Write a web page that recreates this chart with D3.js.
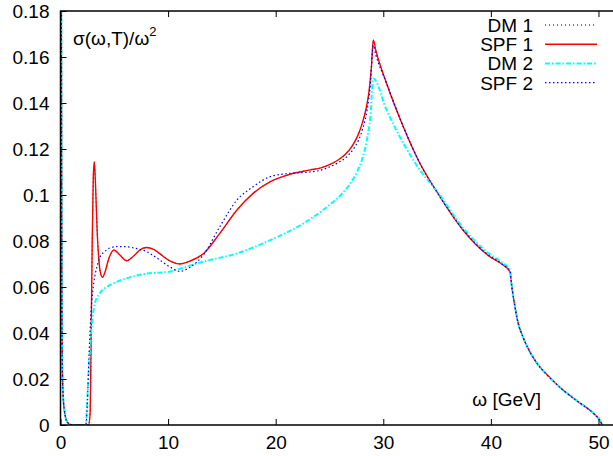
<!DOCTYPE html>
<html>
<head>
<meta charset="utf-8">
<script src="https://cdn.jsdelivr.net/npm/d3@7"></script>
<style>
  body { margin: 0; background: #fff; }
  svg { display: block; font-family: "Liberation Sans", Arial, sans-serif; }
</style>
</head>
<body>
<svg width="613" height="456"></svg>
<script>
// spectral function data (omega in GeV)
var omegaSpike = [0.05, 0.08, 0.1, 0.13, 0.17, 0.25, 0.4, 0.6, 0.9, 1.2];
var valueSpike = [0.30, 0.19, 0.12, 0.05, 0.025, 0.012, 0.005, 0.0015, 0.0003, 0];

var omega1 = [2.6, 2.75, 2.85, 2.95, 3.05, 3.14, 3.25, 3.4, 3.6, 3.8, 3.92, 4.1, 4.5, 4.97, 5.5, 6.15, 6.8, 7.4, 8.0, 8.7, 9.5, 10.2, 11.1, 12.0, 13.3, 14.8, 16.4, 17.9, 19.5, 21.3, 23.2, 24.2, 25.0, 25.8, 26.5, 27.1, 27.6, 28.0, 28.4, 28.7, 28.9, 29.07, 29.3, 30.3, 31.86, 33.4, 35.0, 37.4, 39.9, 41.0, 41.8];
var spf1 = [0, 0.005, 0.04, 0.08, 0.108, 0.1145, 0.105, 0.085, 0.070, 0.0648, 0.0642, 0.066, 0.0725, 0.0761, 0.0740, 0.0714, 0.0735, 0.0762, 0.0772, 0.0762, 0.0735, 0.0712, 0.0700, 0.0712, 0.0746, 0.0833, 0.0935, 0.1007, 0.1058, 0.109, 0.1109, 0.1118, 0.1132, 0.1152, 0.1178, 0.1213, 0.1255, 0.1305, 0.1375, 0.146, 0.156, 0.1674, 0.163, 0.1486, 0.1297, 0.1138, 0.1012, 0.0848, 0.0732, 0.0700, 0.0664];
var dm1 = [0, 0.005, 0.04, 0.08, 0.108, 0.1142, 0.105, 0.085, 0.070, 0.0648, 0.0643, 0.066, 0.0725, 0.0760, 0.0740, 0.0715, 0.0735, 0.0761, 0.0771, 0.0762, 0.0735, 0.0712, 0.0701, 0.0712, 0.0746, 0.0833, 0.0935, 0.1007, 0.1058, 0.109, 0.1109, 0.1118, 0.1132, 0.1152, 0.1178, 0.1213, 0.1255, 0.1305, 0.1375, 0.146, 0.156, 0.1670, 0.163, 0.1486, 0.1297, 0.1138, 0.1012, 0.0848, 0.0732, 0.0700, 0.0664];

var omega2 = [2.35, 2.5, 2.65, 2.85, 3.1, 3.4, 3.67, 4.13, 4.6, 5.3, 6.15, 7.0, 8.0, 9.0, 10.18, 11.1, 12.0, 13.27, 14.8, 16.4, 17.9, 19.5, 21.3, 23.2, 24.2, 25.0, 25.8, 26.6, 27.2, 27.7, 28.1, 28.5, 28.8, 29.07, 29.3, 30.3, 31.86, 33.4, 35.0, 37.4, 39.9, 41.0, 41.8];
var spf2 = [0, 0.01, 0.03, 0.05, 0.062, 0.069, 0.073, 0.0755, 0.077, 0.0776, 0.0775, 0.0768, 0.0754, 0.0725, 0.0687, 0.0668, 0.0685, 0.0739, 0.0862, 0.0978, 0.1036, 0.108, 0.1094, 0.110, 0.1108, 0.1122, 0.1140, 0.1166, 0.1198, 0.1238, 0.129, 0.137, 0.148, 0.165, 0.161, 0.1486, 0.1297, 0.1138, 0.1012, 0.0850, 0.0735, 0.0702, 0.0666];

var omegaDM2 = [2.35, 2.5, 2.7, 2.9, 3.2, 3.6, 4.3, 5.0, 6.15, 8.0, 10.18, 11.1, 13.27, 16.4, 19.5, 22.6, 25.0, 26.0, 26.9, 27.6, 28.1, 28.5, 28.8, 29.07, 30.3, 31.86, 33.4, 35.0, 37.4, 39.9, 41.0, 41.8];
var dm2 = [0, 0.012, 0.03, 0.043, 0.053, 0.057, 0.060, 0.0618, 0.0638, 0.0658, 0.0667, 0.068, 0.0710, 0.0746, 0.0804, 0.0877, 0.0957, 0.0998, 0.1048, 0.1105, 0.1165, 0.1245, 0.134, 0.1507, 0.137, 0.1225, 0.1109, 0.1015, 0.0858, 0.0742, 0.0708, 0.0672];

// common tail after the kink at 41.8 GeV
var omegaTail = [41.84, 41.99, 42.24, 42.5, 43.0, 43.6, 44.26, 45.5, 46.7, 48.0, 49.5, 50.1, 50.35];
var valueTail = [0.0645, 0.0587, 0.0514, 0.045, 0.038, 0.032, 0.027, 0.0205, 0.0152, 0.0105, 0.0052, 0.0022, 0];

var xTicks = [0, 10, 20, 30, 40, 50];
var yTicks = [0, 0.02, 0.04, 0.06, 0.08, 0.1, 0.12, 0.14, 0.16, 0.18];
var legendNames = ["DM 1", "SPF 1", "DM 2", "SPF 2"];

function series(omegaMid, valueMid) {
  var pts = [];
  omegaSpike.forEach(function(w, i) { pts.push([w, valueSpike[i]]); });
  omegaMid.forEach(function(w, i) { pts.push([w, valueMid[i]]); });
  omegaTail.forEach(function(w, i) { pts.push([w, valueTail[i]]); });
  return pts;
}

var lines = [
  { data: series(omega1, dm1), color: "#000000", width: 1, dash: "1,3" },
  { data: series(omega1, spf1), color: "#ff0000", width: 1.4, dash: null },
  { data: series(omegaDM2, dm2), color: "#00ffff", width: 2, dash: "5,2,1.5,2" },
  { data: series(omega2, spf2), color: "#0000ff", width: 1.2, dash: "1.5,2.5" }
];

var svg = d3.select("svg");
var plotLeft = 60.5, plotTop = 11, plotBottom = 425, plotRight = 620;
var fontSize = 19;

var x = d3.scaleLinear().domain([0, 52]).range([plotLeft, plotRight]);
var y = d3.scaleLinear().domain([0, 0.18]).range([plotBottom, plotTop]);

svg.append("clipPath").attr("id", "plotclip")
  .append("rect")
  .attr("x", plotLeft).attr("y", plotTop)
  .attr("width", plotRight - plotLeft).attr("height", plotBottom - plotTop);

var line = d3.line()
  .x(function(d) { return x(d[0]); })
  .y(function(d) { return y(d[1]); })
  .curve(d3.curveMonotoneX);

var g = svg.append("g").attr("clip-path", "url(#plotclip)");
lines.forEach(function(s) {
  g.append("path")
    .datum(s.data)
    .attr("fill", "none")
    .attr("stroke", s.color)
    .attr("stroke-width", s.width)
    .attr("stroke-dasharray", s.dash)
    .attr("d", line);
});

function styleText(a) {
  a.select(".domain").remove();
  a.selectAll("line").attr("stroke", "#000");
  a.selectAll("text")
    .attr("font-size", fontSize)
    .attr("fill", "#000")
    .attr("font-family", "Liberation Sans, Arial, sans-serif");
}

// axes: ticks point inward, mirrored on top
svg.append("g")
  .attr("transform", "translate(0," + plotBottom + ")")
  .call(d3.axisBottom(x).tickValues(xTicks).tickSizeInner(-6).tickSizeOuter(0).tickPadding(11))
  .call(styleText);

svg.append("g")
  .attr("transform", "translate(0," + plotTop + ")")
  .call(d3.axisTop(x).tickValues(xTicks.slice(1)).tickSizeInner(-6).tickSizeOuter(0).tickFormat(""))
  .call(styleText);

svg.append("g")
  .attr("transform", "translate(" + plotLeft + ",0)")
  .call(d3.axisLeft(y).tickValues(yTicks).tickSizeInner(-6).tickSizeOuter(0).tickPadding(11)
    .tickFormat(function(d) { return d === 0 ? "0" : d3.format(".2~f")(d); }))
  .call(styleText);

// frame (right side falls outside the picture)
svg.append("path")
  .attr("fill", "none")
  .attr("stroke", "#000")
  .attr("stroke-width", 1.5)
  .attr("d", "M" + plotRight + "," + plotTop + "H" + plotLeft + "V" + plotBottom + "H" + plotRight);

// labels
var ylab = svg.append("text")
  .attr("x", 73).attr("y", 45)
  .attr("font-size", fontSize);
ylab.append("tspan").text("σ(ω,T)/ω");
ylab.append("tspan").attr("font-size", 13).attr("dy", -9).text("2");

svg.append("text")
  .attr("x", 541).attr("y", 406)
  .attr("text-anchor", "end")
  .attr("font-size", fontSize)
  .text("ω [GeV]");

// legend
var legend = svg.append("g");
lines.forEach(function(s, i) {
  var cy = 25 + i * 19.2;
  legend.append("text")
    .attr("x", 533).attr("y", cy + 7)
    .attr("text-anchor", "end")
    .attr("font-size", fontSize)
    .text(legendNames[i]);
  legend.append("line")
    .attr("x1", 545).attr("x2", 597)
    .attr("y1", cy).attr("y2", cy)
    .attr("stroke", s.color)
    .attr("stroke-width", s.width)
    .attr("stroke-dasharray", s.dash);
});
</script>
</body>
</html>
